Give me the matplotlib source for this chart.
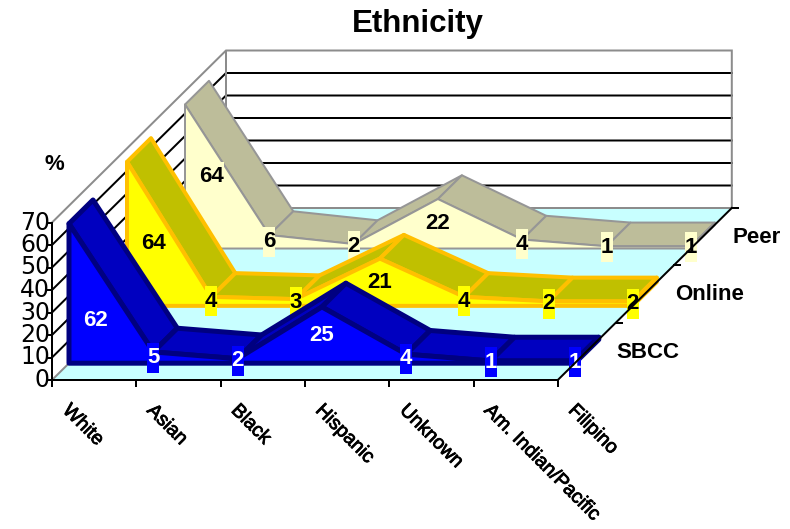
from matplotlib import pyplot as plt
from matplotlib import patheffects
from matplotlib.patches import Polygon, Rectangle

plt.rcParams['font.family'] = ['Liberation Sans', 'DejaVu Sans']

categories = ['White', 'Asian', 'Black', 'Hispanic', 'Unknown', 'Am. Indian/Pacific', 'Filipino']
series_names = ['SBCC', 'Online', 'Peer']
sbcc = [62, 5, 2, 25, 4, 1, 1]
online = [64, 4, 3, 21, 4, 2, 2]
peer = [64, 6, 2, 22, 4, 1, 1]
value_ticks = [0, 10, 20, 30, 40, 50, 60, 70]

# oblique projection of the 3-d box, all in figure pixels
X0, Y0 = 52, 380
CAT_STEP = 84.3
VAL_STEP = 2.25
DEPTH_TOTAL = 174
DEPTH_RISE = 172 / 174
SERIES_PITCH = 58
SERIES_START = 17
RIBBON = 24
PX = 0.72  # linewidth in points for one pixel at 100 dpi

heavy = [patheffects.withStroke(linewidth=0.6, foreground='black')]


def project(cat, val, depth=0):
    return X0 + CAT_STEP * cat + depth, Y0 - VAL_STEP * val - depth * DEPTH_RISE


def draw_box(ax):
    top = value_ticks[-1]
    last = len(categories) - 1
    floor = [project(0, 0), project(last, 0), project(last, 0, DEPTH_TOTAL), project(0, 0, DEPTH_TOTAL)]
    ax.add_patch(Polygon(floor, fc='#C8FFFF', ec='none', zorder=1))

    for v in value_ticks[1:-1]:
        a, b, c = project(0, v), project(0, v, DEPTH_TOTAL), project(last, v, DEPTH_TOTAL)
        ax.plot([a[0], b[0], c[0]], [a[1], b[1], c[1]], color='black', lw=2 * PX, zorder=2,
                solid_joinstyle='miter')

    # grey outline of the walls
    path = [project(0, 0), project(0, 0, DEPTH_TOTAL), project(last, 0, DEPTH_TOTAL),
            project(last, top, DEPTH_TOTAL), project(0, top, DEPTH_TOTAL), project(0, top)]
    ax.plot(*zip(*path), color='#8C8C8C', lw=2 * PX, zorder=2, solid_joinstyle='miter')
    back = [project(0, 0, DEPTH_TOTAL), project(0, top, DEPTH_TOTAL)]
    ax.plot(*zip(*back), color='#8C8C8C', lw=2 * PX, zorder=2)


def draw_axes(ax):
    last = len(categories) - 1
    for v in value_ticks:
        x, y = project(0, v)
        ax.plot([x - 5, x], [y, y], color='black', lw=2 * PX, zorder=8)
        ax.text(x - 2, y, str(v), ha='right', va='center', fontsize=17, family='DejaVu Sans', zorder=8)
    ax.plot(*zip(project(0, 0), project(0, value_ticks[-1])), color='black', lw=2 * PX, zorder=8)
    ax.plot(*zip(project(0, 0), project(last, 0)), color='black', lw=2 * PX, zorder=8)
    ax.plot(*zip(project(last, 0), project(last, 0, DEPTH_TOTAL)), color='black', lw=2 * PX, zorder=8)

    for i, name in enumerate(categories):
        x, y = project(i, 0)
        ax.plot([x, x], [y, y + 6], color='black', lw=2 * PX, zorder=8)
        ax.text(x + 13, y + 28, name, rotation=-45, rotation_mode='anchor', ha='left', va='center',
                fontsize=14, zorder=8, path_effects=heavy)

    for s, name in enumerate(series_names):
        x, y = project(last, 0, SERIES_PITCH * (s + 1))
        ax.plot([x, x + 6], [y, y], color='black', lw=2 * PX, zorder=8)
        x, y = project(last, 0, SERIES_START + RIBBON / 2 + SERIES_PITCH * s)
        ax.text(x + 30, y + 1, name, ha='left', va='center', fontsize=16, fontweight='bold', zorder=8)


def draw_series(ax, values, s, face, edge, ribbon, width, text_color, first_shift):
    z = 3 + (2 - s)
    front = SERIES_START + SERIES_PITCH * s
    last = len(values) - 1
    style = dict(ec=edge, lw=width * PX, joinstyle='round', zorder=z)

    for i in range(last):
        quad = [project(i, values[i], front), project(i + 1, values[i + 1], front),
                project(i + 1, values[i + 1], front + RIBBON), project(i, values[i], front + RIBBON)]
        ax.add_patch(Polygon(quad, fc=ribbon, **style))
    cap = [project(last, 0, front), project(last, values[last], front),
           project(last, values[last], front + RIBBON), project(last, 0, front + RIBBON)]
    ax.add_patch(Polygon(cap, fc=ribbon, **style))

    outline = [project(0, 0, front)] + [project(i, v, front) for i, v in enumerate(values)] + [project(last, 0, front)]
    ax.add_patch(Polygon(outline, fc=face, **style))

    for i, v in enumerate(values):
        x, y = project(i, v / 2, front)
        if i == 0:
            x += 27
            y += first_shift
        w = 12 * len(str(v))
        ax.add_patch(Rectangle((x - w / 2, y - 15), w, 30, fc=face, ec='none', zorder=z))
        ax.text(x, y, str(v), ha='center', va='center', fontsize=16, fontweight='bold',
                color=text_color, zorder=z)


fig = plt.figure(figsize=(7.9, 5.29), dpi=100)
ax = fig.add_axes([0, 0, 1, 1])
ax.set_xlim(0, 790)
ax.set_ylim(529, 0)
ax.axis('off')

draw_box(ax)
draw_series(ax, peer, 2, '#FFFFCC', '#969696', '#BDBD9A', 2, 'black', 0)
draw_series(ax, online, 1, '#FFFF00', '#FFC000', '#C0C000', 4, 'black', 10)
draw_series(ax, sbcc, 0, '#0000FF', '#000080', '#0000C0', 5, 'white', 27)
draw_axes(ax)

ax.text(418, 24, 'Ethnicity', ha='center', va='center', fontsize=22.5, fontweight='bold')
ax.text(54, 165, '%', ha='center', va='center', fontsize=16, fontweight='bold')

fig.savefig('out.png', dpi=100)
